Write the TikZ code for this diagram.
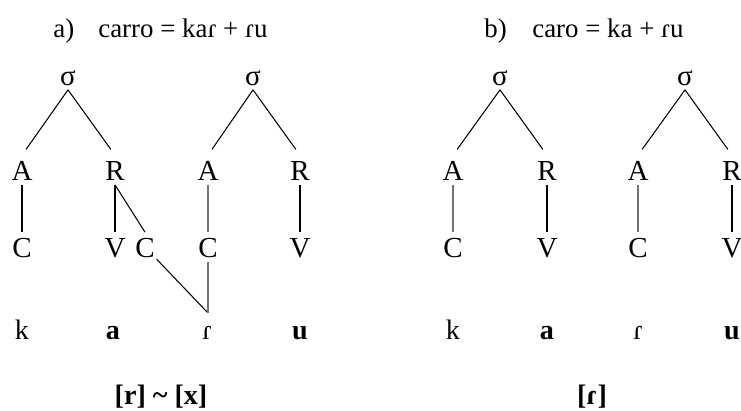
\documentclass[tikz,border=0pt]{standalone}
\usepackage{fontspec}
\setmainfont{Liberation Serif}
\usepackage{tikz}
\tikzset{
  syl/.style={inner xsep=1pt,inner ysep=2.5pt,text height=11.5pt,text depth=0pt,font=\fontsize{16.5}{19}\selectfont},
  seg/.style={inner sep=0pt,anchor=base,font=\fontsize{16}{19}\selectfont},
  link/.style={line width=0.6pt},
  pale/.style={line width=0.6pt,black!55}
}

\begin{document}
\begin{tikzpicture}[x=0.02cm,y=-0.02cm,font=\fontsize{15.3}{18}\selectfont]
  \useasboundingbox (0,0) rectangle (741,410);
  % titles
  \node[anchor=base west,inner sep=0pt] (ta) at (53,37) {a)};
  \node[anchor=base west,inner sep=0pt] (tat) at (98,37) {carro = kaɾ + ɾu};
  \node[anchor=base west,inner sep=0pt] (tb) at (484,37) {b)};
  \node[anchor=base west,inner sep=0pt] (tbt) at (532,37) {caro = ka + ɾu};
  % a) kaɾ.ɾu
  \node[syl] (s1) at (68,75) {σ};
  \node[syl] (a1) at (22,170) {A};  \node[syl] (r1) at (115,170) {R};
  \node[syl] (c1) at (22,247) {C};  \node[syl] (v1) at (115,247) {V};
  \node[syl] (cx) at (145,247) {C};
  \node[syl] (s2) at (253,75) {σ};
  \node[syl] (a2) at (208,170) {A}; \node[syl] (r2) at (300,170) {R};
  \node[syl] (c2) at (208,247) {C}; \node[syl] (v2) at (300,247) {V};
  \coordinate (j) at (208,313);
  \draw[link,shorten >=4pt] (s1.south) -- (a1.north); \draw[link,shorten >=4pt] (s1.south) -- (r1.north);
  \draw[link] (a1) -- (c1); \draw[link] (r1) -- (v1); \draw[link] (r1.south) -- (cx.north);
  \draw[link,shorten >=4pt] (s2.south) -- (a2.north); \draw[link,shorten >=4pt] (s2.south) -- (r2.north);
  \draw[pale] (a2) -- (c2); \draw[link] (r2) -- (v2);
  \draw[link] (cx) -- (j); \draw[pale] (c2) -- (j);
  \node[seg] (k1) at (22,339) {k};
  \node[seg] (ka1) at (113,339) {\textbf{a}};
  \node[seg] (kr1) at (207,339) {ɾ};
  \node[seg] (ku1) at (300,339) {\textbf{u}};
  \node[seg] (fa) at (161,404) {\textbf{[r] \textasciitilde{} [x]}};
  % b) ka.ɾu
  \node[syl] (s3) at (500,75) {σ};
  \node[syl] (a3) at (453,170) {A}; \node[syl] (r3) at (547,170) {R};
  \node[syl] (c3) at (453,247) {C}; \node[syl] (v3) at (547,247) {V};
  \node[syl] (s4) at (685,75) {σ};
  \node[syl] (a4) at (638,170) {A}; \node[syl] (r4) at (732,170) {R};
  \node[syl] (c4) at (638,247) {C}; \node[syl] (v4) at (732,247) {V};
  \draw[link,shorten >=4pt] (s3.south) -- (a3.north); \draw[link,shorten >=4pt] (s3.south) -- (r3.north);
  \draw[pale] (a3) -- (c3); \draw[link] (r3) -- (v3);
  \draw[link,shorten >=4pt] (s4.south) -- (a4.north); \draw[link,shorten >=4pt] (s4.south) -- (r4.north);
  \draw[pale] (a4) -- (c4); \draw[link] (r4) -- (v4);
  \node[seg] (k2) at (453,339) {k};
  \node[seg] (ka2) at (547,339) {\textbf{a}};
  \node[seg] (kr2) at (638,339) {ɾ};
  \node[seg] (ku2) at (732,339) {\textbf{u}};
  \node[seg] (fb) at (592,404) {\textbf{[ɾ]}};
\end{tikzpicture}
\end{document}
